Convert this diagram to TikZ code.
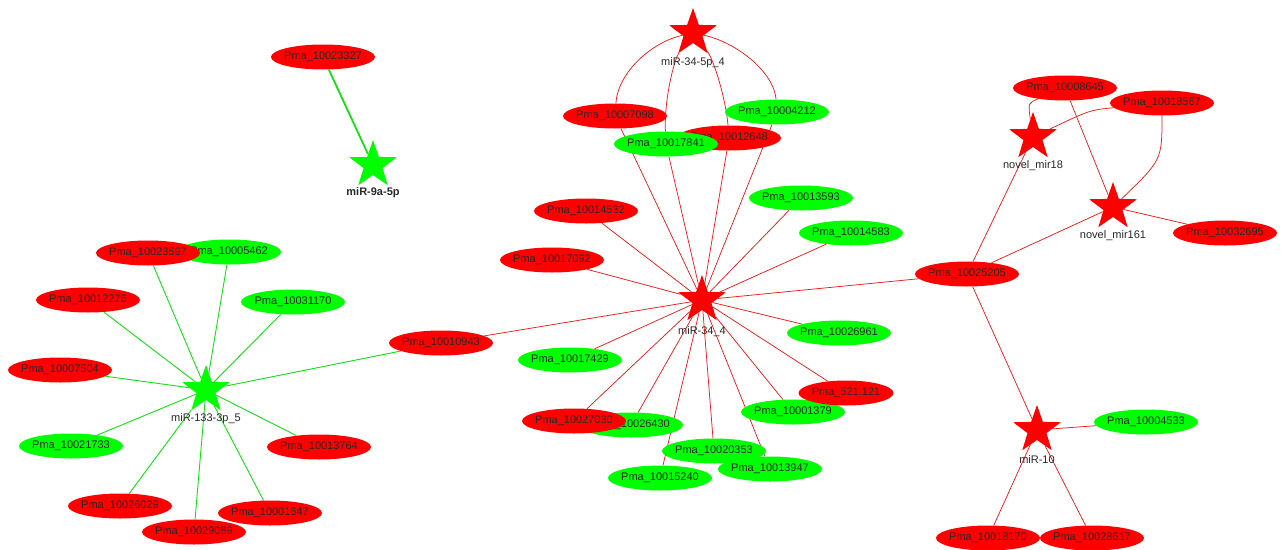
\documentclass[tikz,border=0pt]{standalone}
\usepackage{fontspec}
\setmainfont{Liberation Sans}
\usetikzlibrary{shapes.geometric,backgrounds}

\definecolor{nodered}{RGB}{255,0,0}
\definecolor{nodegreen}{RGB}{0,255,0}
\definecolor{edgered}{RGB}{238,30,30}
\definecolor{edgegreen}{RGB}{20,225,20}
\definecolor{txt}{RGB}{40,40,40}

% centred text of zero width, so the ellipse keeps its fixed size
\newcommand\elltext[1]{\makebox[0pt]{#1}}

\tikzset{
  gene/.style={ellipse, inner sep=0pt, minimum width=104pt, minimum height=25pt,
    font=\fontsize{11}{13}\selectfont, text=txt},
  upgene/.style={gene, fill=nodered},
  downgene/.style={gene, fill=nodegreen},
  mirna/.style={star, star points=5, star point ratio=2.5, inner sep=0pt,
    minimum size=50pt},
  mirup/.style={mirna, fill=nodered},
  mirdown/.style={mirna, fill=nodegreen},
  mirlabel/.style={font=\fontsize{11}{13}\selectfont, text=txt, inner sep=0pt},
  redlink/.style={draw=edgered, line width=0.75pt},
  greenlink/.style={draw=edgegreen, line width=0.9pt},
}

\begin{document}
\begin{tikzpicture}[x=1pt, y=-1pt]
\useasboundingbox (0,0) rectangle (1282,549);

% ---------- miR-9a-5p ----------
\node[upgene] (p23327) at (323,57) {\elltext{Pma\_10023327}};
\node[mirdown] (mir9a) at (373,165) {};
\node[mirlabel, font=\fontsize{11}{13}\selectfont\bfseries] (mir9aL) at (373,193) {miR-9a-5p};

% ---------- miR-133-3p_5 cluster ----------
\node[mirdown] (mir133) at (206,390) {};
\node[mirlabel] (mir133L) at (206,419) {miR-133-3p\_5};
\node[downgene] (p05462) at (229,252) {\elltext{Pma\_10005462}};
\node[upgene] (p23597) at (148,253) {\elltext{Pma\_10023597}};
\node[upgene] (p12276) at (88,300) {\elltext{Pma\_10012276}};
\node[downgene] (p31170) at (293,302) {\elltext{Pma\_10031170}};
\node[upgene] (p07504) at (60,370) {\elltext{Pma\_10007504}};
\node[downgene] (p21733) at (71,446) {\elltext{Pma\_10021733}};
\node[upgene] (p13764) at (319,447) {\elltext{Pma\_10013764}};
\node[upgene] (p26029) at (120,506) {\elltext{Pma\_10026029}};
\node[upgene] (p29089) at (194,532) {\elltext{Pma\_10029089}};
\node[upgene] (p01647) at (270,513) {\elltext{Pma\_10001647}};
\node[upgene] (p10943) at (441,343) {\elltext{Pma\_10010943}};

% ---------- miR-34 cluster ----------
\node[mirup] (mir345p) at (693,33) {};
\node[mirlabel] (mir345pL) at (693,63) {miR-34-5p\_4};
\node[mirup] (mir34) at (702,300) {};
\node[mirlabel] (mir34L) at (702,332) {miR-34\_4};
\node[upgene] (p07098) at (615,116) {\elltext{Pma\_10007098}};
\node[downgene] (p04212) at (777,112) {\elltext{Pma\_10004212}};
\node[upgene] (p12648) at (729,138) {\elltext{Pma\_10012648}};
\node[downgene] (p17841) at (666,144) {\elltext{Pma\_10017841}};
\node[upgene] (p14532) at (586,211) {\elltext{Pma\_10014532}};
\node[upgene] (p17092) at (552,260) {\elltext{Pma\_10017092}};
\node[downgene] (p13593) at (801,198) {\elltext{Pma\_10013593}};
\node[downgene] (p14583) at (851,233) {\elltext{Pma\_10014583}};
\node[downgene] (p26961) at (839,333) {\elltext{Pma\_10026961}};
\node[downgene] (p17429) at (570,360) {\elltext{Pma\_10017429}};
\node[downgene] (p26430) at (631,425) {\elltext{Pma\_10026430}};
\node[upgene] (p27030) at (574,421) {\elltext{Pma\_10027030}};
\node[downgene] (p20353) at (714,451) {\elltext{Pma\_10020353}};
\node[downgene] (p13947) at (770,469) {\elltext{Pma\_10013947}};
\node[downgene] (p15240) at (660,478) {\elltext{Pma\_10015240}};
\node[downgene] (p01379) at (793,412) {\elltext{Pma\_10001379}};
\node[upgene, minimum width=95pt] (p521) at (846,393) {\elltext{Pma\_521.121}};

% ---------- novel miRNAs and miR-10 ----------
\node[upgene] (p25205) at (967,274) {\elltext{Pma\_10025205}};
\node[upgene] (p08645) at (1065,88) {\elltext{Pma\_10008645}};
\node[upgene] (p18567) at (1162,103) {\elltext{Pma\_10018567}};
\node[mirup] (mir18) at (1033,137) {};
\node[mirlabel] (mir18L) at (1033,166) {novel\_mir18};
\node[mirup] (mir161) at (1113,207) {};
\node[mirlabel] (mir161L) at (1113,236) {novel\_mir161};
\node[upgene] (p32695) at (1225,233) {\elltext{Pma\_10032695}};
\node[mirup] (mir10) at (1037,430) {};
\node[mirlabel] (mir10L) at (1037,460) {miR-10};
\node[downgene] (p04533) at (1146,422) {\elltext{Pma\_10004533}};
\node[upgene] (p18170) at (988,538) {\elltext{Pma\_10018170}};
\node[upgene] (p28617) at (1092,538) {\elltext{Pma\_10028617}};

% ---------- connectors, under the nodes ----------
\begin{scope}[on background layer]
  \fill[white] (0,0) rectangle (1282,549);

  \draw[edgegreen, line width=1.8pt] (p23327) -- (mir9a);

  \foreach \g in {p05462,p23597,p12276,p31170,p07504,p21733,p13764,
                  p26029,p29089,p01647,p10943}
    \draw[greenlink] (mir133) -- (\g);

  \foreach \g in {p07098,p04212,p12648,p17841,p14532,p17092,p13593,p14583,
                  p26961,p17429,p26430,p27030,p20353,p13947,p15240,p01379,
                  p521,p10943,p25205}
    \draw[redlink] (mir34) -- (\g);

  \draw[redlink] (mir345p) .. controls (652,42) and (618,72) .. (p07098);
  \draw[redlink] (mir345p) .. controls (674,60) and (664,100) .. (p17841);
  \draw[redlink] (mir345p) .. controls (714,60) and (726,100) .. (p12648);
  \draw[redlink] (mir345p) .. controls (736,42) and (774,72) .. (p04212);

  \draw[redlink] (p08645) .. controls (1028,103) .. (mir18);
  \draw[redlink] (p18567) .. controls (1090,110) .. (mir18);
  \draw[redlink] (p08645) -- (mir161);
  \draw[redlink] (p18567) .. controls (1162,160) .. (mir161);
  \draw[redlink] (mir161) -- (p32695);
  \draw[redlink] (mir161) -- (p25205);
  \draw[redlink] (mir18) -- (p25205);
  \draw[redlink] (p25205) -- (mir10);
  \draw[redlink] (mir10) -- (p04533);
  \draw[redlink] (mir10) -- (p18170);
  \draw[redlink] (mir10) -- (p28617);
\end{scope}
\end{tikzpicture}
\end{document}
